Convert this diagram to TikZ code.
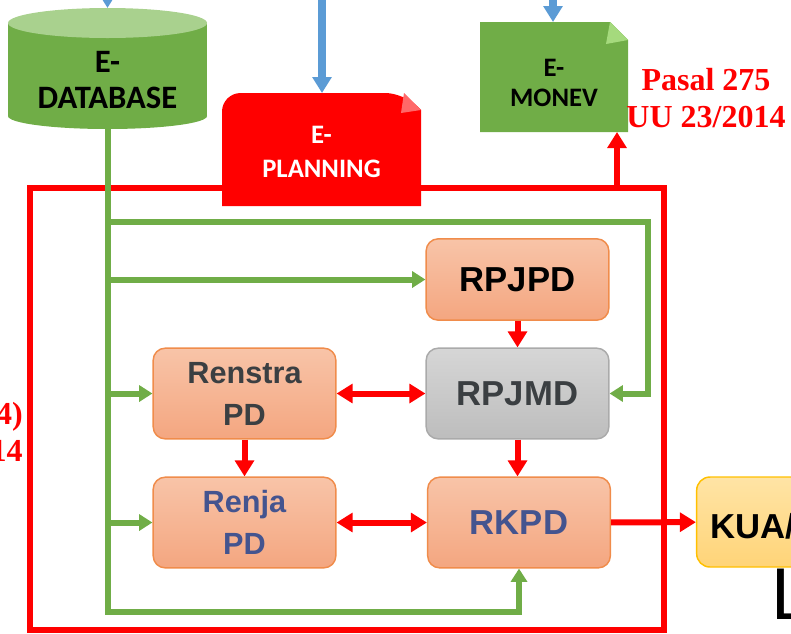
\documentclass[tikz,border=0pt]{standalone}
\usepackage{fontspec}
\setmainfont{Liberation Sans}
\newfontfamily\calfont{Carlito}
\newfontfamily\serfont{Liberation Serif}
\usetikzlibrary{arrows.meta}

\definecolor{dbgreen}{RGB}{112,173,71}
\definecolor{dbtop}{RGB}{169,209,142}
\definecolor{foldgreen}{RGB}{165,218,125}
\definecolor{foldred}{RGB}{255,105,105}
\definecolor{salmontop}{RGB}{248,196,168}
\definecolor{salmonbot}{RGB}{244,166,128}
\definecolor{boxorange}{RGB}{240,140,75}
\definecolor{graytop}{RGB}{214,214,214}
\definecolor{graybot}{RGB}{189,189,189}
\definecolor{grayline}{RGB}{170,170,170}
\definecolor{darktext}{RGB}{59,63,66}
\definecolor{bluetext}{RGB}{68,84,143}
\definecolor{kuatop}{RGB}{255,228,165}
\definecolor{kuabot}{RGB}{255,212,120}
\definecolor{kuaedge}{RGB}{255,192,0}
\definecolor{arrowblue}{RGB}{91,155,213}

\begin{document}
\begin{tikzpicture}[x=0.75pt, y=-0.75pt,
  gline/.style={draw=dbgreen, line width=4.5pt},
  garrow/.style={gline, -{Triangle[length=10pt,width=12pt]}},
  rarrow/.style={draw=red, line width=4.5pt, -{Triangle[length=12pt,width=14pt]}},
  rdouble/.style={draw=red, line width=4.5pt, {Triangle[length=12pt,width=14pt]}-{Triangle[length=12pt,width=14pt]}},
  barrow/.style={draw=arrowblue, line width=5.5pt, -{Triangle[length=12pt,width=14pt]}},
  elabel/.style={font=\calfont\bfseries\fontsize{20}{26}\selectfont, align=center, inner sep=0pt},
  planbox/.style={draw=boxorange, line width=1.1pt, rounded corners=9pt, top color=salmontop, bottom color=salmonbot, minimum width=137pt, minimum height=68pt, inner sep=0pt, align=center, font=\bfseries\fontsize{23}{31.5}\selectfont},
  bigtext/.style={font=\bfseries\fontsize{26}{30}\selectfont},
  pasal/.style={text=red, font=\serfont\bfseries\fontsize{24}{28}\selectfont, align=center, inner sep=0pt}
]
\useasboundingbox (0,0) rectangle (791,633);

% frame round the planning part
\draw[red, line width=5pt] (30,188) rectangle (664,630);

% e-database
\fill[dbgreen] (8,23) rectangle (207,116);
\fill[dbgreen] (107.5,116) ellipse [x radius=99.5, y radius=13];
\fill[dbtop] (107.5,23) ellipse [x radius=99.5, y radius=15];
\node[elabel, font=\calfont\bfseries\fontsize{24.5}{27}\selectfont] (edb) at (107.5,80) {E-\\DATABASE};
\coordinate (edbtop) at (107.5,8);
\coordinate (edbbot) at (107.5,129);

% e-planning
\fill[red, rounded corners=14pt] (222,206) -- (222,93) -- (404,93) [sharp corners] -- (421,110) -- (421,206) -- cycle;
\fill[foldred] (404,93) -- (421,110) -- (401,113) -- cycle;
\node[elabel, text=white] (eplan) at (321.5,152) {E-\\PLANNING};
\coordinate (eplantop) at (322,93);

% e-monev
\fill[dbgreen] (480,22) -- (610,22) -- (628,40) -- (628,132) -- (480,132) -- cycle;
\fill[foldgreen] (610,22) -- (628,40) -- (606,44) -- cycle;
\node[elabel, font=\calfont\bfseries\fontsize{20}{23}\selectfont] (emonev) at (554,83) {E-\\MONEV};
\coordinate (monevtop) at (553,22);
\coordinate (monevbot) at (617,132);

\node[pasal] (pasal) at (706,98) {Pasal 275\\UU 23/2014};
\node[pasal, anchor=east, align=right] (pasalleft) at (23,432) {4)\\14};

% planning documents
\node[planbox, bigtext, text=black, minimum height=61pt] (rpjpd) at (517.5,279.5) {RPJPD};
\node[planbox, bigtext, top color=graytop, bottom color=graybot, draw=grayline, text=darktext] (rpjmd) at (517.5,393.5) {RPJMD};
\node[planbox, text=darktext] (renstra) at (244.5,393.5) {Renstra\\PD};
\node[planbox, text=bluetext] (renja) at (244.5,522.5) {Renja\\PD};
\node[planbox, bigtext, text=bluetext] (rkpd) at (519,522.5) {RKPD};

\node[anchor=base west, inner sep=0pt, font=\fontsize{55}{60}\selectfont] (lword) at (771,619) {L};
\node[draw=kuaedge, line width=1.1pt, rounded corners=10pt, top color=kuatop, bottom color=kuabot, minimum width=137pt, minimum height=67.5pt] (kua) at (788,522) {};
\node[bigtext, anchor=base west, inner sep=0pt] (kuatext) at (710,538) {KUA/};

% data flows
\coordinate (gtop) at (648,222);
\coordinate (gbot) at (519,612);
\draw[garrow] (edbbot) |- (gbot) -- (rkpd.south);
\draw[garrow] (edbbot |- gtop) -- (gtop) |- (rpjmd.east);
\draw[garrow] (edbbot |- rpjpd.west) -- (rpjpd.west);
\draw[garrow] (edbbot |- renstra.west) -- (renstra.west);
\draw[garrow] (edbbot |- renja.west) -- (renja.west);

\draw[rarrow] (rpjpd) -- (rpjmd);
\draw[rdouble] (renstra) -- (rpjmd);
\draw[rarrow] (renstra) -- (renja);
\draw[rarrow] (rpjmd.south) -- (rpjmd.south |- rkpd.north);
\draw[rdouble] (renja) -- (rkpd);
\draw[rarrow] (rkpd) -- (kua);

\coordinate (ftop) at (617,188);
\draw[rarrow] (ftop) -- (monevbot);

\draw[barrow] (edbtop |- 0,-30) -- (edbtop);
\draw[barrow] (eplantop |- 0,-30) -- (eplantop);
\draw[barrow] (monevtop |- 0,-30) -- (monevtop);
\end{tikzpicture}
\end{document}
